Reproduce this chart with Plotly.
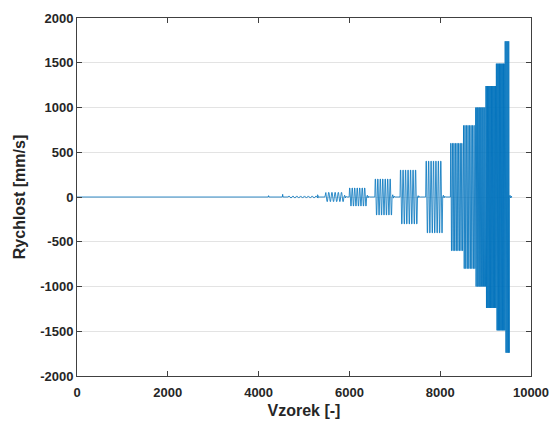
import plotly.graph_objects as go

# Burst test: start/end sample, velocity amplitude [mm/s], number of cycles
burst_start = [5460, 5995, 6560, 7115, 7680, 8225, 8505, 8775, 9005, 9236, 9430]
burst_end = [5880, 6380, 6940, 7500, 8055, 8503, 8773, 9003, 9234, 9428, 9522]
burst_amp = [50, 100, 200, 300, 400, 600, 800, 1000, 1240, 1490, 1740]
burst_cycles = [6, 7, 7, 7, 7, 8, 8, 10, 13, 22, 14]
# small ring-down after each burst
tail_amp = [20, 20, 25, 15, 20, 0, 0, 0, 0, 0, 20]

# isolated spikes in the quiet part of the record
spike_pos = [4220, 4530, 5300]
spike_amp = [15, 30, 25]

# low-amplitude wiggle before the first burst
wiggle_start, wiggle_end, wiggle_amp, wiggle_cycles = 4650, 5330, 12, 8

record_end = 9550

xs, ys = [0], [0]


def add(x, y):
    xs.append(x)
    ys.append(y)


# quiet section with spikes and wiggle
for p, a in zip(spike_pos[:2], spike_amp[:2]):
    add(p - 8, 0)
    add(p, a)
    add(p + 8, 0)

period = (wiggle_end - wiggle_start) / wiggle_cycles
add(wiggle_start, 0)
for k in range(wiggle_cycles):
    t0 = wiggle_start + k * period
    add(t0 + 0.25 * period, wiggle_amp)
    add(t0 + 0.75 * period, -wiggle_amp)
add(wiggle_end - 20, 0)
add(spike_pos[2] - 5, 0)
add(spike_pos[2], spike_amp[2])
add(spike_pos[2] + 10, 0)

# excitation bursts
for s, e, a, n, ta in zip(burst_start, burst_end, burst_amp, burst_cycles, tail_amp):
    add(s, 0)
    period = (e - s) / n
    for k in range(n):
        t0 = s + k * period
        add(t0 + 0.15 * period, a)
        add(t0 + 0.30 * period, a)
        add(t0 + 0.65 * period, -a)
        add(t0 + 0.80 * period, -a)
    add(e, 0)
    if ta:
        add(e + 15, ta)
        add(e + 30, -ta * 0.5)
        add(e + 45, ta * 0.4)
        add(e + 60, 0)

add(record_end, 0)

y_ticks = [-2000, -1500, -1000, -500, 0, 500, 1000, 1500, 2000]
x_ticks = [0, 2000, 4000, 6000, 8000, 10000]

fig = go.Figure(
    go.Scatter(
        x=xs, y=ys, mode="lines",
        line=dict(color="#0072BD", width=0.8),
        hoverinfo="skip",
    )
)

label_font = dict(family="Liberation Sans, Arial", size=13, color="#262626", weight="bold")
title_font = dict(family="Liberation Sans, Arial", size=16, color="#262626", weight="bold")

axis_common = dict(
    showline=True, linecolor="#404040", linewidth=1, mirror="ticks",
    ticks="inside", ticklen=5, tickcolor="#404040",
    tickfont=label_font, zeroline=False, automargin=False,
)

fig.update_layout(
    width=550, height=421,
    margin=dict(l=77, r=19, t=18, b=45),
    paper_bgcolor="white", plot_bgcolor="white",
    showlegend=False,
    xaxis=dict(
        range=[0, 10000], tickvals=x_ticks, ticktext=[str(v) for v in x_ticks],
        showgrid=False, ticklabelstandoff=4,
        title=dict(text="Vzorek [-]", standoff=6, font=title_font),
        **axis_common,
    ),
    yaxis=dict(
        range=[-2000, 2000], tickvals=y_ticks, ticktext=[str(v) for v in y_ticks],
        showgrid=True, gridcolor="#e3e3e3", gridwidth=1,
        title=dict(text="Rychlost [mm/s]", standoff=10, font=title_font),
        **axis_common,
    ),
)

fig.write_html("out.html")
